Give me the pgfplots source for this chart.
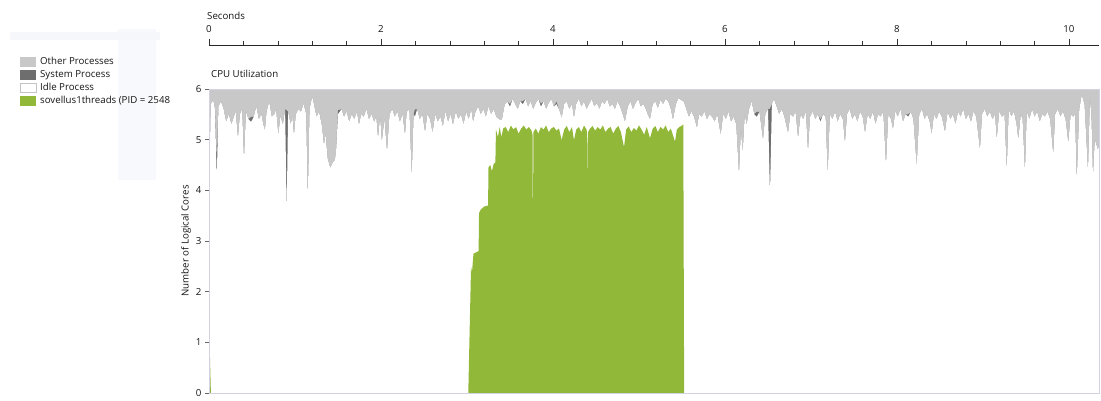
\documentclass[border=0pt]{standalone}
\usepackage{fontspec}
\setmainfont{Open Sans}
\usepackage{pgfplots}
\usepackage{pgfplotstable}
\pgfplotsset{compat=1.18}
\definecolor{othergray}{HTML}{C8C8C8}
\definecolor{sysgray}{HTML}{6E6E6E}
\definecolor{idleedge}{HTML}{C4C4C4}
\definecolor{procgreen}{HTML}{92B83A}
\definecolor{framec}{HTML}{D2D2E2}
\definecolor{txt}{HTML}{151515}

% t = seconds, s = top of idle area, d = system process share above it
\pgfplotstableread{
t s d
0 3.70 0
0.02 5.70 0
0.05 5.78 0
0.07 5.60 0
0.09 4.22 0.40
0.11 5.65 0
0.14 5.75 0
0.17 5.60 0
0.20 5.35 0
0.23 5.50 0
0.26 5.30 0
0.29 5.45 0
0.31 5.55 0
0.337 5.03 0
0.36 5.50 0
0.385 5.60 0
0.407 4.60 0
0.43 5.55 0
0.46 5.40 0
0.49 5.35 0.10
0.52 5.45 0
0.55 5.65 0
0.58 5.40 0
0.61 5.50 0
0.63 5.30 0
0.651 5.19 0
0.67 5.55 0
0.70 5.75 0
0.73 5.45 0
0.76 5.50 0
0.78 5.60 0
0.806 5.09 0
0.83 5.45 0
0.86 5.30 0
0.885 5.60 0
0.903 3.58 2.00
0.92 5.55 0
0.95 5.30 0
0.97 5.45 0
0.988 5.09 0
1.01 5.50 0
1.04 5.60 0
1.07 5.55 0
1.10 5.70 0
1.13 5.50 0
1.148 3.78 0
1.17 5.60 0
1.20 5.85 0
1.22 5.70 0
1.25 5.45 0
1.28 5.55 0
1.31 5.30 0
1.337 4.89 0
1.355 5.10 0
1.38 4.62 0
1.41 4.44 0
1.44 4.55 0
1.465 4.60 0
1.48 4.83 0
1.50 5.50 0.08
1.54 5.60 0
1.57 5.45 0
1.60 5.55 0
1.63 5.35 0
1.66 5.50 0
1.69 5.40 0
1.72 5.55 0
1.744 5.29 0
1.77 5.50 0
1.80 5.45 0
1.83 5.60 0
1.86 5.40 0
1.89 5.50 0
1.92 5.35 0
1.945 5.45 0
1.965 5.03 0
1.99 5.45 0
2.01 4.96 0
2.04 5.40 0
2.07 4.76 0
2.10 5.50 0
2.13 5.60 0
2.16 5.45 0
2.19 5.55 0
2.22 5.35 0
2.25 5.50 0
2.279 5.09 0
2.30 5.55 0
2.33 5.60 0
2.357 4.24 0
2.38 5.50 0
2.395 5.45 0.15
2.42 5.60 0
2.45 5.40 0
2.48 5.50 0
2.512 5.15 0
2.54 5.50 0
2.57 5.40 0
2.60 5.13 0
2.63 5.50 0
2.66 5.35 0
2.69 5.45 0
2.72 5.26 0
2.75 5.55 0
2.78 5.35 0
2.81 5.50 0
2.837 5.29 0
2.87 5.55 0
2.90 5.40 0
2.93 5.50 0
2.96 5.30 0
2.99 5.55 0
3.02 5.40 0
3.05 5.60 0
3.07 5.35 0
3.10 5.55 0
3.13 5.65 0
3.16 5.50 0
3.19 5.60 0
3.22 5.45 0
3.25 5.65 0
3.28 5.50 0
3.31 5.60 0
3.34 5.45 0
3.384 5.39 0
3.407 5.40 0
3.44 5.70 0
3.47 5.75 0
3.50 5.65 0.05
3.53 5.80 0
3.56 5.70 0
3.59 5.60 0
3.62 5.75 0
3.65 5.70 0.06
3.68 5.80 0
3.71 5.65 0
3.74 5.75 0
3.77 5.60 0
3.80 5.72 0
3.83 5.80 0
3.86 5.65 0.06
3.89 5.75 0
3.92 5.60 0
3.95 5.72 0
3.98 5.80 0
4.01 5.65 0
4.04 5.70 0.05
4.07 5.60 0
4.101 5.43 0
4.13 5.70 0
4.16 5.75 0
4.19 5.60 0
4.22 5.70 0
4.244 5.43 0
4.27 5.70 0
4.30 5.80 0
4.33 5.65 0
4.36 5.75 0
4.39 5.60 0
4.42 5.70 0
4.45 5.80 0
4.48 5.65 0
4.51 5.72 0
4.54 5.60 0
4.57 5.75 0
4.60 5.70 0
4.63 5.80 0
4.66 5.65 0
4.69 5.70 0
4.72 5.60 0
4.75 5.75 0
4.78 5.65 0
4.81 5.50 0
4.837 5.35 0
4.87 5.65 0
4.90 5.75 0
4.93 5.60 0
4.96 5.72 0
4.99 5.80 0
5.02 5.65 0
5.05 5.70 0
5.08 5.60 0
5.10 5.50 0
5.128 5.40 0
5.16 5.70 0
5.19 5.75 0
5.22 5.62 0
5.25 5.78 0
5.28 5.70 0
5.31 5.80 0
5.34 5.75 0
5.37 5.60 0
5.395 5.39 0
5.43 5.70 0
5.46 5.82 0
5.49 5.78 0
5.52 5.75 0
5.55 5.60 0
5.58 5.45 0
5.61 5.55 0
5.64 5.45 0
5.674 5.23 0
5.70 5.50 0
5.73 5.45 0
5.76 5.55 0
5.79 5.40 0
5.82 5.50 0
5.85 5.45 0
5.88 5.35 0
5.91 5.50 0
5.95 5.09 0
5.98 5.50 0
6.01 5.40 0
6.04 5.55 0
6.07 5.35 0
6.10 5.45 0
6.13 5.30 0
6.163 4.30 0
6.185 5.20 0
6.206 4.74 0
6.23 5.50 0
6.252 5.29 0
6.28 5.60 0
6.31 5.75 0
6.34 5.50 0
6.37 5.45 0.10
6.40 5.55 0
6.442 4.99 0
6.47 5.50 0
6.50 5.60 0
6.523 3.91 1.70
6.545 5.70 0
6.57 5.80 0
6.60 5.65 0
6.63 5.50 0
6.66 5.60 0
6.69 5.45 0
6.733 5.13 0
6.76 5.50 0
6.79 5.45 0
6.82 5.55 0
6.849 5.03 0
6.88 5.50 0
6.91 5.40 0
6.94 5.55 0
6.965 4.76 0
6.99 5.45 0
7.02 5.55 0
7.05 5.40 0
7.08 5.50 0
7.11 5.35 0.05
7.14 5.50 0
7.17 5.45 0
7.194 4.30 0
7.22 5.50 0
7.25 5.40 0
7.28 5.55 0
7.31 5.35 0
7.34 5.50 0
7.37 5.40 0
7.395 4.93 0
7.42 5.50 0
7.45 5.60 0
7.48 5.40 0
7.51 5.50 0
7.54 5.35 0
7.57 5.55 0
7.60 5.45 0
7.628 5.13 0
7.66 5.50 0
7.69 5.40 0
7.72 5.55 0
7.75 5.30 0
7.78 5.50 0
7.81 5.45 0
7.84 5.55 0
7.872 4.50 0
7.90 5.50 0
7.93 5.40 0
7.953 5.20 0
7.98 5.55 0
8.01 5.45 0
8.04 5.60 0
8.07 5.35 0
8.10 5.50 0
8.13 5.45 0.05
8.16 5.55 0
8.19 5.40 0
8.229 4.47 0
8.26 5.50 0
8.29 5.60 0
8.32 5.40 0
8.35 5.50 0
8.38 5.35 0
8.403 5.10 0
8.43 5.50 0
8.46 5.40 0
8.49 5.55 0
8.52 5.45 0
8.558 5.15 0
8.59 5.55 0
8.62 5.40 0
8.65 5.50 0
8.68 5.30 0
8.71 5.55 0
8.74 5.45 0
8.77 5.60 0
8.80 5.40 0
8.83 5.50 0
8.86 5.35 0
8.89 5.55 0
8.92 5.45 0
8.965 4.80 0
8.99 5.50 0
9.02 5.60 0
9.05 5.45 0
9.08 5.55 0
9.11 5.40 0
9.14 5.50 0
9.159 5.00 0
9.19 5.55 0
9.22 5.45 0
9.25 5.50 0
9.276 4.37 0
9.30 5.60 0
9.33 5.45 0
9.36 5.55 0
9.39 5.30 0
9.41 5.00 0
9.44 5.50 0
9.46 5.40 0
9.488 4.37 0
9.51 5.55 0
9.54 5.40 0
9.57 5.60 0
9.60 5.45 0
9.63 5.55 0
9.66 5.35 0
9.69 5.50 0
9.72 5.45 0
9.75 5.55 0
9.78 5.40 0
9.817 4.70 0
9.84 5.50 0
9.87 5.60 0
9.90 5.45 0
9.93 5.55 0
9.96 5.40 0
9.992 4.93 0
10.02 5.50 0
10.05 5.45 0
10.07 5.50 0
10.09 4.17 0
10.12 5.60 0
10.148 5.88 0
10.18 5.70 0
10.221 4.37 0
10.244 5.80 0
10.26 5.50 0
10.279 4.27 0
10.30 5.00 0
10.337 4.80 0
10.349 4.90 0
}\cpu

% sovellus1threads process: short burst at start-up
\pgfplotstableread{
t g
0 1.05
0.01 0.80
0.022 0
}\greenstart

% sovellus1threads process: main run
\pgfplotstableread{
t g
3.015 0
3.047 2.49
3.058 2.37
3.075 2.75
3.135 2.80
3.14 3.55
3.16 3.62
3.20 3.68
3.245 3.70
3.25 4.45
3.27 4.50
3.29 4.38
3.31 4.52
3.33 4.55
3.337 5.20
3.36 5.05
3.38 5.25
3.40 5.05
3.42 5.22
3.45 5.25
3.48 5.15
3.51 5.28
3.54 5.20
3.57 5.25
3.60 5.12
3.63 5.22
3.66 5.28
3.69 5.20
3.72 5.25
3.75 5.18
3.762 5.10
3.767 2.66
3.772 5.15
3.80 5.22
3.83 5.12
3.86 5.25
3.89 5.20
3.92 5.28
3.95 5.15
3.98 5.22
4.01 5.25
4.04 5.18
4.07 5.22
4.10 4.99
4.13 5.20
4.16 5.27
4.19 5.15
4.22 5.25
4.244 4.99
4.27 5.20
4.30 5.25
4.33 5.15
4.36 5.28
4.39 5.20
4.398 5.10
4.403 4.07
4.408 5.15
4.43 5.22
4.46 5.27
4.49 5.18
4.52 5.25
4.55 5.20
4.58 5.28
4.61 5.15
4.64 5.22
4.67 5.25
4.70 5.12
4.73 5.22
4.76 5.27
4.79 5.15
4.826 4.85
4.85 5.20
4.88 5.26
4.91 5.15
4.94 5.23
4.97 5.18
5.00 5.28
5.03 5.20
5.06 5.10
5.09 5.25
5.128 5.03
5.16 5.22
5.19 5.27
5.22 5.15
5.25 5.25
5.28 5.20
5.31 5.28
5.34 5.15
5.37 5.22
5.419 4.96
5.44 5.20
5.47 5.25
5.50 5.28
5.515 5.30
5.525 0
}\greenproc

\begin{document}
\begin{tikzpicture}[font=\fontsize{9.7}{11.5}\selectfont, text=txt]
\useasboundingbox (0pt,0pt) rectangle (1101pt,401pt);
% faint background remnants at the top left
\fill[color={rgb,255:red,248;green,249;blue,252}] (118pt,221pt) rectangle (156pt,372pt);
\fill[color={rgb,255:red,246;green,247;blue,250}] (10pt,361pt) rectangle (160pt,369pt);

\node[anchor=base west, inner sep=0pt] at (207pt,381pt) {Seconds};
\node[anchor=base west, inner sep=0pt] at (211pt,323.5pt) {CPU Utilization};

% time ruler at the top
\begin{axis}[
  at={(209pt,356pt)}, anchor=north west,
  scale only axis, width=890pt, height=1pt,
  xmin=0, xmax=10.349, ymin=0, ymax=1,
  axis x line=top, hide y axis,
  x axis line style={-, color=black!85},
  xtick={0,2,...,10}, minor tick num=4,
  tick align=outside,
  major tick length=6pt, minor tick length=4pt,
  every tick/.style={color=black!80, line width=0.5pt},
  xticklabel style={/pgf/number format/assume math mode=true, font=\fontsize{9.7}{11.5}\selectfont, text=txt, yshift=3pt},
]
\end{axis}

% CPU utilization chart
\begin{axis}[
  at={(209pt,8pt)}, anchor=south west,
  scale only axis, width=890pt, height=304pt,
  xmin=0, xmax=10.349, ymin=0, ymax=6,
  xtick=\empty, ytick={0,1,...,6}, ytick pos=left,
  tick align=outside, major tick length=4pt,
  every tick/.style={color=black!60, line width=0.5pt},
  yticklabel style={/pgf/number format/assume math mode=true, font=\fontsize{9.7}{11.5}\selectfont, text=txt},
  axis on top,
  axis line style={color=framec, line width=0.8pt},
  ylabel={Number of Logical Cores},
  ylabel style={at={(axis description cs:-0.0258,0.5)}, anchor=center, font=\fontsize{9.7}{11.5}\selectfont, text=txt},
  legend style={at={(axis description cs:-0.2124,1.1118)}, anchor=north west,
    draw=none, fill=none, inner sep=0pt, row sep=0pt,
    font=\fontsize{9.7}{11.5}\selectfont, text=txt,
    nodes={inner sep=2pt, text height=7pt, text depth=2pt},
    /tikz/every odd column/.append style={column sep=2pt}},
  legend cell align=left,
]
\addplot[fill=othergray, draw=none,
  legend image code/.code={\fill[othergray] (0pt,-5pt) rectangle (16pt,5pt);}]
  coordinates {(0,6) (10.349,6)} \closedcycle;
\addlegendentry{Other Processes}
\addplot[fill=sysgray, draw=none,
  legend image code/.code={\fill[sysgray] (0pt,-5pt) rectangle (16pt,5pt);}]
  table[x=t, y expr=\thisrow{s}+\thisrow{d}] {\cpu} \closedcycle;
\addlegendentry{System Process}
\addplot[fill=white, draw=none,
  legend image code/.code={\draw[fill=white, draw=idleedge, line width=0.6pt] (0.3pt,-4.7pt) rectangle (15.7pt,4.7pt);}]
  table[x=t, y=s] {\cpu} \closedcycle;
\addlegendentry{Idle Process}
\addplot[fill=procgreen, draw=none,
  legend image code/.code={\fill[procgreen] (0pt,-5pt) rectangle (16pt,5pt);}]
  table[x=t, y=g] {\greenproc} \closedcycle;
\addlegendentry{sovellus1threads (PID = 2548}
\addplot[fill=procgreen, draw=none, forget plot]
  table[x=t, y=g] {\greenstart} \closedcycle;
\end{axis}
\end{tikzpicture}
\end{document}
